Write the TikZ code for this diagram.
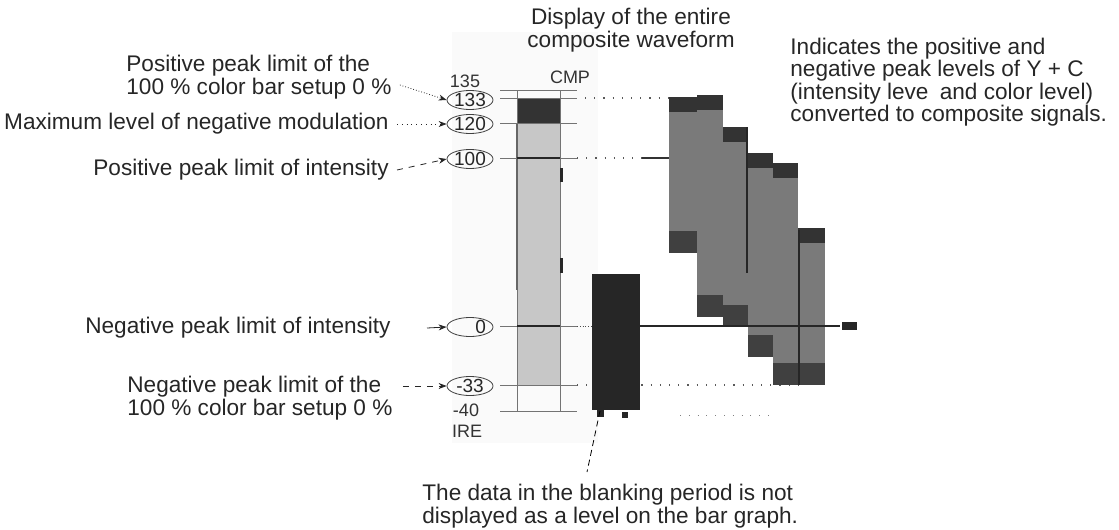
\documentclass[tikz,border=0pt]{standalone}
\usepackage{fontspec}
\setmainfont{Liberation Sans}
\usetikzlibrary{shapes.geometric,arrows.meta}

\begin{document}
\begin{tikzpicture}[x=0.5pt, y=-0.5pt,
    lbl/.style={font=\fontsize{11.3}{11.2}\selectfont, inner sep=0pt, text=black!85},
    lvl/.style={ellipse, draw=black!75, line width=0.4pt, inner sep=0pt,
                minimum width=23pt, minimum height=8.5pt, font=\fontsize{9.5}{10}\selectfont, text=black!85},
    num/.style={font=\fontsize{9}{10}\selectfont, inner sep=0pt, text=black!80},
    tick/.style={draw=black!55, line width=0.5pt},
    ptr/.style={-{Stealth[length=4pt,width=3pt]}, line width=0.4pt, black!85},
    guide/.style={black!65, loosely dotted, line width=0.6pt}]
  \useasboundingbox (0,0) rectangle (1119,530);

  % faint scan background behind the bar
  \fill[black!2] (452,32) rectangle (598,443);

  % CMP bar graph
  \fill[black!80] (517,98) rectangle (560,123);
  \fill[black!22] (517,123) rectangle (560,385);
  \draw[black!55, line width=0.5pt] (517,90) -- (517,411) (560,90) -- (560,411);
  \draw[black!60, line width=1pt] (517,123) -- (517,290);
  \foreach \y in {90,98,123,158,326,385,411}
    \draw[tick] (500,\y) -- (577,\y);
  \draw[black!85, line width=0.9pt] (517,158) -- (560,158) (517,326) -- (560,326);
  \draw[black!85, line width=1.5pt] (561,168) -- (561,182) (561,258) -- (561,273);

  % scale
  \node[num] (t135) at (465,81) {135};
  \node[lvl] (e133) at (470,100) {133};
  \node[lvl] (e120) at (470,124) {120};
  \node[lvl] (e100) at (470,159) {100};
  \node[lvl] (e0) at (470,327) {\hphantom{00}0};
  \node[lvl] (em33) at (470,386) {-33};
  \node[num] (t40) at (466,410) {-40};
  \node[num] (ire) at (467,431) {IRE};
  \node[num] (cmp) at (570,77) {CMP};

  % level guides to the waveform
  \draw[guide] (585,98) -- (669,98);
  \draw[guide] (577,158) -- (642,158);
  \draw[black!80, line width=1.25pt] (642,158) -- (669,158);
  \draw[black!70, densely dotted] (577,326) -- (592,326);
  \draw[guide] (577,385) -- (800,385);
  \draw[black!50, loosely dotted] (680,415) -- (775,415);

  % composite waveform, one column per bar
  \foreach \xa/\xb/\yt/\yb in {669/697/97/253, 697/723/95/317, 723/748/127/327,
                                748/773/153/357, 773/798/163/385, 798/825/228/385} {
    \fill[black!52] (\xa,\yt) rectangle (\xb,\yb);
    \fill[black!80] (\xa,\yt) rectangle (\xb,\yt+15);
    \fill[black!75] (\xa,\yb-22) rectangle (\xb,\yb);
  }
  \draw[black!85, line width=1pt] (747,127) -- (747,273);
  \draw[black!85, line width=1pt] (799,230) -- (799,385);
  \draw[black!85, line width=1.25pt] (640,326) -- (840,326);
  \fill[black!85] (842,322) rectangle (857,330);

  % blanking period
  \node[fill=black!85, minimum width=24pt, minimum height=68pt, inner sep=0pt,
        anchor=north west] (blank) at (592,274) {};
  \fill[black!85] (597,410) rectangle (604,417);
  \fill[black!85] (622,412) rectangle (628,418);

  % texts
  \node[lbl, align=center] (title) at (631,30) {Display of the entire\\composite waveform};
  \node[lbl, align=left, anchor=west] (peaks) at (790,82)
    {Indicates the positive and\\negative peak levels of Y + C\\(intensity leve\hphantom{l} and color level)\\converted to composite signals.};
  \node[lbl, align=left, anchor=west] (lab133) at (126,77) {Positive peak limit of the\\100 \% color bar setup 0 \%};
  \node[lbl, anchor=east] (lab120) at (389,124) {Maximum level of negative modulation};
  \node[lbl, anchor=east] (lab100) at (389,170) {Positive peak limit of intensity};
  \node[lbl, anchor=east] (lab0) at (391,328) {Negative peak limit of intensity};
  \node[lbl, align=left, anchor=west] (labm33) at (127,398) {Negative peak limit of the\\100 \% color bar setup 0 \%};
  \node[lbl, align=left, anchor=west] (note) at (422,506)
    {The data in the blanking period is not\\displayed as a level on the bar graph.};

  % pointers
  \draw[ptr, densely dotted] ([xshift=4pt,yshift=-4pt]lab133.east) -- (e133.west);
  \draw[ptr, dotted] ([xshift=4pt]lab120.east) -- (e120.west);
  \draw[ptr, dashed] ([xshift=4pt]lab100.east) -- (e100.west);
  \draw[ptr] ([xshift=18pt]lab0.east) -- (e0.west);
  \draw[ptr, dashed] ([xshift=5pt,yshift=6pt]labm33.east) -- (em33.west);
  \coordinate (lead) at (587,472);
  \draw[densely dashed, line width=0.4pt] ([xshift=4pt]blank.south west) -- (lead);
\end{tikzpicture}
\end{document}
